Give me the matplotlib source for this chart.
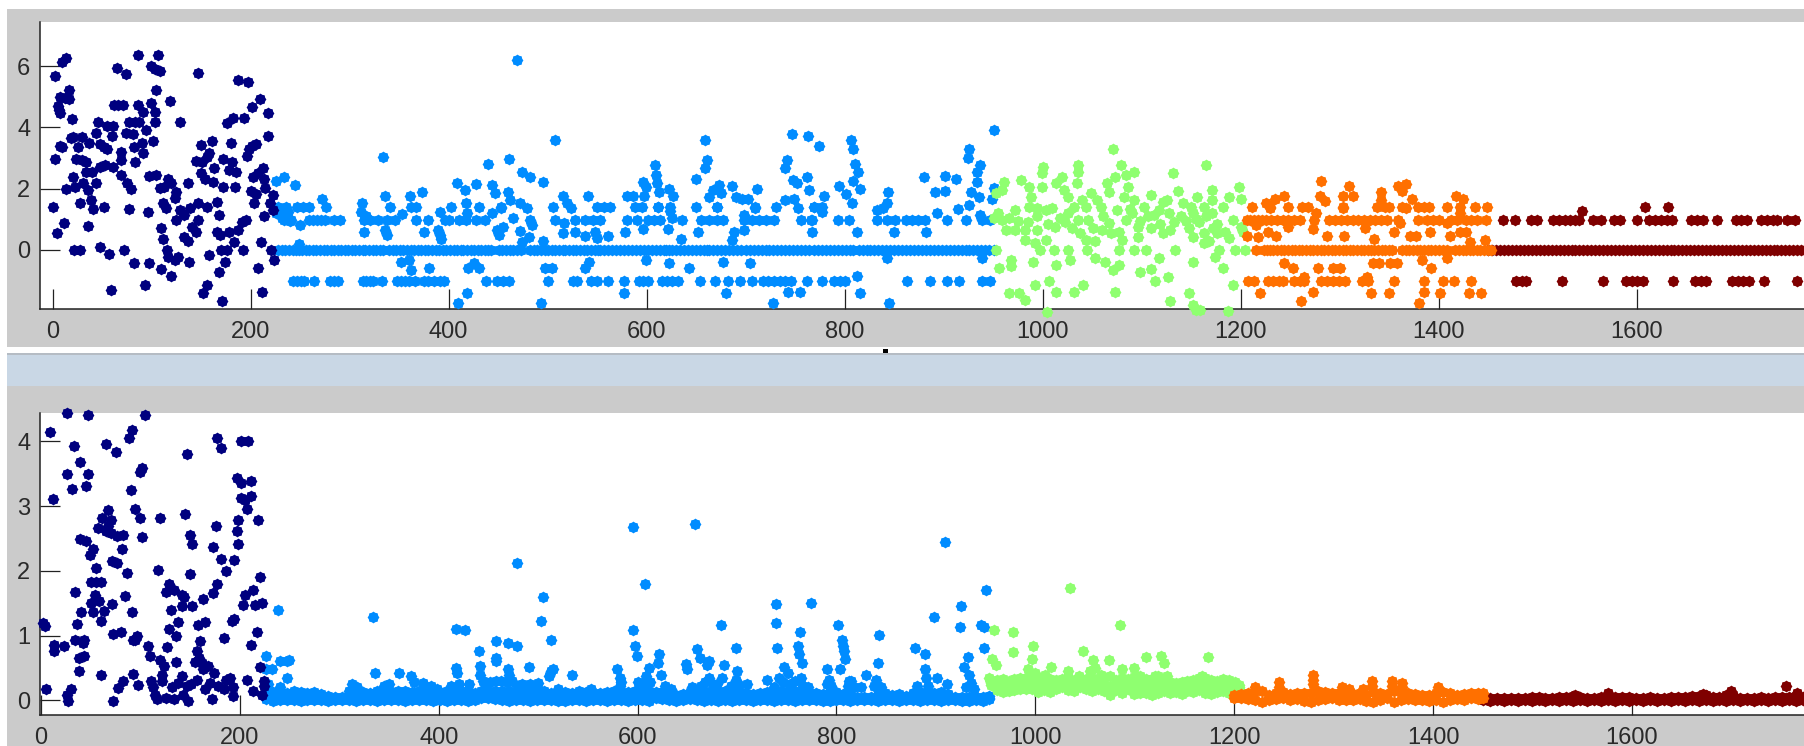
import matplotlib
matplotlib.use("Agg")
import matplotlib.pyplot as plt
from matplotlib.patches import Rectangle
from matplotlib.path import Path

W, H = 1804, 746
plt.rcParams["font.family"] = ["Liberation Sans", "DejaVu Sans"]

NAVY, BLUE, GREEN, ORANGE, DARKRED = "#00007F", "#008CFF", "#8FFF70", "#FF7000", "#7F0000"
XTICKS = [0, 200, 400, 600, 800, 1000, 1200, 1400, 1600]

# --- top panel ---
NAVY_TOP = [(2,5.67),(10,6.15),(14,6.28),(2,2.96),(0,1.39),(4,.56),(12,.89),(5,4.69),(6,4.56),(7,4.47),(8,5.0),(13,4.96),
    (17,4.94),(17,5.21),(20,4.28),(7,3.39),(10,3.37),(19,3.64),(21,3.69),(30,3.67),(37,3.5),(26,3.37),(46,4.16),(44,3.8),
    (48,3.47),(52,3.37),(55,3.31),(55,4.04),(61,4.06),(60,3.71),(65,5.94),(74,5.73),(62,4.74),(66,4.74),(71,4.74),(77,4.16),
    (83,4.16),(87,4.16),(86,6.35),(106,6.37),(99,5.99),(103,5.92),(108,5.84),(104,5.21),(86,4.74),(91,4.5),(99,4.8),(103,4.5),
    (103,4.18),(94,3.91),(101,3.55),(74,3.8),(81,3.77),(82,3.37),(90,3.5),(91,3.15),(83,2.86),(119,4.85),(129,4.17),(147,5.79),
    (187,5.54),(197,5.48),(209,4.92),(201,4.65),(218,4.48),(193,4.29),(182,4.32),(176,4.13),(218,3.71),(205,3.47),(201,3.4),
    (198,3.31),(196,3.07),(180,3.5),(161,3.55),(150,3.44),(158,3.15),(156,3.04),(145,2.9),(151,2.86),(172,2.96),(181,2.86),
    (178,2.6),(185,2.55),(163,2.68),(150,2.5),(154,2.3),(162,2.23),(172,2.04),(184,2.06),(202,2.39),(207,2.5),(213,2.68),
    (214,2.33),(215,2.03),(200,1.92),(205,1.82),(203,1.52),(223,1.79),(220,1.52),(223,1.3),(214,1.12),(24,2.96),(30,2.93),
    (34,2.86),(21,2.39),(34,2.55),(40,2.55),(48,2.71),(53,2.77),(61,2.71),(69,2.93),(69,3.2),(69,2.44),(75,2.19),(79,1.99),
    (44,2.19),(14,1.98),(23,2.04),(31,2.19),(36,1.95),(39,1.63),(41,1.32),(28,1.52),(52,1.39),(77,1.34),(96,1.25),(97,2.42),
    (104,2.44),(117,2.33),(120,2.19),(108,2.01),(113,2.04),(137,2.19),(125,1.9),(124,1.68),(112,1.52),(115,1.36),(125,.98),
    (129,1.3),(133,1.14),(139,1.36),(147,1.52),(156,1.41),(166,1.57),(168,1.14),(147,.98),(141,.76),(109,.73),(112,.36),
    (36,.78),(133,.43),(137,.3),(145,.58),(166,.58),(169,.47),(178,.58),(183,.27),(187,.65),(191,.92),(195,.98),(210,.25),
    (22,0),(28,0),(48,.11),(57,-.13),(72,0),(82,-.43),(97,-.43),(93,-1.16),(59,-1.31),(110,-.62),(120,-.85),(116,0),(117,-.22),
    (124,-.33),(127,-.22),(138,-.38),(158,-.18),(170,0),(176,0),(174,-.38),(168,-.71),(207,-.58),(192,0),(221,0),(224,-.33),
    (156,-1.14),(152,-1.41),(171,-1.68),(212,-1.38)]

BLUE_TOP_ZERO_X = [228,232,235,239,243,246,249,252,256,259,263,266,270,274,277,281,284,288,291,295,298,302,305,309,313,316,320,324,
    327,331,334,340,344,347,351,354,358,362,365,369,372,376,379,383,387,390,394,397,401,405,408,412,415,419,423,426,430,433,437,440,
    443,451,454,458,462,465,469,473,482,486,489,493,497,500,504,507,511,515,518,522,526,529,533,537,540,544,548,551,553,557,561,565,
    569,573,577,581,585,589,593,597,601,605,609,613,617,620,623,626,630,634,638,642,646,650,654,658,661,663,667,671,675,679,683,687,
    691,695,700,704,708,712,716,720,724,728,732,736,740,744,748,752,756,760,764,769,773,777,781,785,789,793,797,801,805,808,814,818,
    822,826,830,834,838,842,846,850,854,858,862,866,870,874,878,882,886,890,894,898,902,906,910,914,918,922,926,930,934,938,942,946,951]
BLUE_TOP_ONE_X = [234,241,259,263,267,271,275,284,290,315,321,329,338,346,367,379,396,400,410,418,428,437,482,507,528,538,546,553,580,
    590,601,607,613,636,655,663,671,677,698,706,713,721,729,756,766,793,804,833,843,851,862,868,874,881,903,922,939,947]
BLUE_TOP_FOURTEEN_X = [228,236,247,253,259,276,341,362,367,402,431,453,505,550,557,563,588,595,611,624,650,671,709,769,777]
BLUE_TOP_MINUS_X = [243,247,251,254,264,280,284,288,313,317,321,324,333,348,352,356,360,366,375,379,385,391,395,438,449,455,461,500,526,
    530,544,550,561,577,592,596,601,615,621,626,632,654,669,682,694,706,717,723,729,735,740,746,762,777,789,795,800,863,886,903,915,939,947]
BLUE_TOP = [(334,3.02),(469,6.21),(507,3.6),(461,2.96),(440,2.82),(474,2.55),(482,2.39),(495,2.23),(408,2.19),(428,2.14),(417,1.95),
    (444,2.12),(447,1.85),(460,1.9),(462,1.63),(472,1.52),(479,1.36),(453,1.36),(373,1.9),(361,1.77),(336,1.77),(515,1.76),(520,1.52),
    (524,1.36),(541,1.77),(272,1.65),(245,2.12),(234,2.39),(226,2.25),(312,1.52),(418,1.52),(391,1.25),(311,1.25),(317,1.09),(353,1.17),
    (419,1.2),(465,1.03),(444,1.2),(315,.58),(336,.65),(338,.49),(375,.58),(389,.65),(391,.49),(392,.35),(449,.65),(455,.76),(451,.49),
    (472,.63),(481,.41),(474,.27),(495,.3),(484,.81),(515,.54),(517,.87),(528,.58),(538,.46),(548,.6),(550,.38),(250,.81),(249,.18),
    (352,-.38),(360,-.33),(362,-.65),(380,-.58),(420,-.58),(426,-.43),(431,-.58),(497,-.58),(504,-.58),(542,-.38),(538,-.6),(409,-1.74),
    (419,-1.41),(493,-1.74),(659,3.6),(661,2.93),(659,2.66),(650,2.33),(608,2.77),(609,2.44),(610,2.17),(612,1.9),(596,2.23),(599,2.06),
    (597,1.77),(580,1.77),(586,1.77),(623,1.99),(627,1.77),(611,1.41),(624,1.28),(626,1.03),(667,1.95),(673,2.12),(675,1.85),(663,1.74),
    (671,1.41),(686,2.08),(690,1.74),(696,1.66),(702,1.66),(711,1.99),(709,1.36),(698,1.14),(731,1.41),(740,1.63),(749,1.65),(753,1.36),
    (742,2.93),(740,2.66),(747,3.77),(763,3.71),(774,3.4),(748,2.28),(752,2.17),(762,2.37),(764,1.95),(779,1.77),(794,2.1),(801,1.82),
    (807,1.52),(806,3.58),(808,3.29),(810,2.82),(813,2.55),(808,2.25),(815,1.99),(769,1.41),(777,1.25),(767,.98),(767,.58),(812,.58),
    (844,1.88),(843,1.52),(833,1.3),(839,1.36),(880,2.39),(901,2.41),(912,2.33),(891,1.88),(901,1.92),(951,3.91),(926,3.31),(925,3.01),
    (937,2.77),(934,2.55),(934,2.23),(928,1.88),(936,1.74),(951,2.03),(949,1.66),(926,1.47),(914,1.34),(893,1.2),(937,1.14),(561,.46),
    (578,.58),(596,.67),(622,.67),(635,.36),(652,.58),(686,.33),(688,.58),(698,.65),(850,.58),(882,.58),(599,-.33),(623,-.43),(643,-.58),
    (677,-.38),(704,-.43),(843,-.27),(939,-.27),(577,-1.41),(680,-1.41),(743,-1.38),(755,-1.38),(815,-1.41),(812,-.85),(728,-1.74),(845,-1.74),
    (226,1.2),(231,1.3),(235,1.1),(238,1.25),(232,1.05),(240,.95)]

GREEN_TOP = [(961,2.23),(959,1.95),(953,1.85),(978,2.28),(986,2.06),(988,1.74),(986,1.41),(994,1.09),(1000,2.71),(999,2.5),(999,2.06),
    (1019,2.39),(1013,2.17),(1021,1.95),(1026,1.74),(1036,2.77),(1036,2.55),(1035,2.19),(1071,3.28),(1079,2.77),(1073,2.39),(1065,2.17),
    (1067,1.9),(1092,2.55),(1084,2.44),(1086,2.06),(1082,1.74),(1092,1.63),(1132,2.5),(1137,1.92),(1156,1.74),(1109,1.79),(1121,1.57),
    (1142,1.52),(1152,1.2),(1049,1.85),(1040,1.63),(1055,1.63),(1059,1.41),(1044,1.41),(1009,1.36),(1003,1.3),(994,1.36),(1032,1.41),
    (1026,1.2),(955,1.2),(959,.98),(972,1.3),(966,1.03),(951,1.03),(1017,1.03),(1022,.92),(1036,.98),(1046,.98),(1051,.71),(1061,1.09),
    (1067,.87),(1084,.98),(1102,1.41),(1106,1.09),(1117,1.3),(1125,1.63),(1140,1.09),(1133,.92),(1150,1.41),(963,.65),(972,.65),(982,.65),
    (992,.22),(982,.33),(1003,.33),(994,.65),(1005,.85),(1038,.54),(1044,.33),(1053,.3),(1069,.54),(1077,.6),(1080,.33),(1096,.76),(1096,.43),
    (1109,.71),(1121,.54),(1129,.65),(1152,.43),(953,0),(997,0),(1011,0),(1025,0),(1045,0),(1077,0),(1092,0),(1104,0),(1134,0),(1053,-.27),
    (1063,-.38),(1071,-.65),(1077,-.49),(1028,-.33),(1013,-.49),(990,-.38),(968,-.33),(968,-.54),(956,-.58),(1117,-.27),(1109,-.63),(1098,-.71),
    (1152,-.38),(1126,-.89),(1113,-1.01),(1006,-1.01),(992,-1.16),(1041,-1.16),(1073,-1.38),(1013,-1.38),(1032,-1.38),(966,-1.41),(976,-1.41),
    (982,-1.63),(1004,-2.03),(1129,-1.68),(1148,-1.41),(1152,-1.79),(1155,-1.95),(1165,2.77),(1171,1.95),(1198,2.06),(1188,1.74),(1200,1.66),
    (1171,1.63),(1182,1.41),(1163,1.41),(1171,1.2),(1192,.98),(1200,.76),(1202,.6),(1184,.6),(1176,.54),(1188,.38),(1163,.54),(1163,.22),
    (1178,0),(1194,0),(1204,0),(1174,-.22),(1182,-.58),(1192,-1.16),(1187,-2.01),(1159,-1.95),(1112,1.15),(1118,.85),(1128,1.2),(1145,.95),
    (1158,.9),(1165,1.1),(1176,.85),(1090,1.2),(1098,.95),(1012,.75),(975,.95),(985,.9),(1030,.7),(1060,.65),(1075,1.3),(1088,1.35),(1148,.7),
    (1155,1.0),(1168,.3),(1172,.7)]

ORANGE_TOP_ZERO_X = [1215,1223,1226,1230,1233,1237,1241,1244,1248,1252,1255,1259,1262,1266,1270,1273,1277,1281,1284,1288,1292,1295,1299,
    1303,1306,1310,1313,1317,1321,1324,1328,1332,1335,1339,1343,1346,1350,1353,1363,1367,1370,1374,1378,1381,1385,1389,1392,1396,1400,
    1404,1408,1416,1420,1424,1427,1431,1435,1439,1442,1446,1450,1453]
ORANGE_TOP_ONE_X = [1206,1209,1213,1217,1221,1225,1231,1237,1243,1248,1254,1260,1274,1289,1295,1301,1307,1313,1318,1324,1330,1336,1342,
    1348,1359,1379,1388,1394,1400,1412,1418,1427,1433,1439,1448]
ORANGE_TOP_FOURTEEN_X = [1211,1229,1248,1262,1268,1303,1338,1350,1363,1379,1385,1390,1408,1421,1437,1449]
ORANGE_TOP_MINUS_X = [1207,1213,1227,1233,1239,1243,1254,1260,1264,1281,1287,1293,1299,1305,1322,1328,1355,1385,1404,1415,1432]
ORANGE_TOP = [(1281,2.25),(1309,2.1),(1303,1.77),(1313,1.77),(1280,1.77),(1285,1.6),(1244,1.77),(1235,1.66),(1225,1.52),(1229,1.36),(1342,1.9),
    (1342,1.63),(1346,1.41),(1359,2.1),(1367,2.14),(1363,1.92),(1373,1.66),(1367,1.36),(1417,1.77),(1424,1.66),(1303,1.36),(1276,1.2),(1215,.81),
    (1248,.76),(1273,.67),(1217,.43),(1227,.58),(1236,.46),(1206,.46),(1287,.46),(1304,.46),(1325,.71),(1335,.36),(1355,.58),(1371,.46),(1377,.46),
    (1391,.58),(1411,.46),(1421,.58),(1427,.6),(1361,.87),(1408,.87),(1421,1.2),(1431,.27),(1447,.33),(1408,-.27),(1383,-.33),(1244,-.43),(1253,-.58),
    (1278,-.58),(1293,-.58),(1300,-.58),(1334,-.43),(1340,-.43),(1351,-.43),(1358,-.43),(1392,-.58),(1219,-1.41),(1273,-1.38),(1331,-1.41),
    (1350,-1.41),(1385,-1.38),(1401,-1.41),(1430,-1.41),(1443,-1.41),(1261,-1.68),(1380,-1.74),(1327,-.87),(1264,-.87)]

DARKRED_TOP_ZERO_X = [1450,1454,1458,1462,1466,1470,1474,1478,1482,1486,1490,1494,1498,1502,1506,1510,1514,1518,1522,1526,1530,1534,1538,1542,
    1546,1550,1554,1558,1562,1566,1570,1574,1578,1582,1586,1590,1594,1598,1602,1606,1610,1614,1618,1622,1626,1630,1634,1638,1642,1646,1650,1654,
    1658,1662,1666,1670,1674,1678,1682,1686,1690,1694,1698,1702,1706,1710,1714,1718,1722,1726,1730,1734,1738,1742,1746,1750,1754,1758,1762,1766,1770]
DARKRED_TOP_ONE_X = [1465,1477,1493,1499,1515,1521,1527,1532,1538,1542,1556,1564,1577,1583,1600,1612,1618,1624,1630,1635,1655,1661,1667,1681,1700,
    1705,1711,1725,1731,1737,1742,1752,1760]
DARKRED_TOP_FOURTEEN_X = [1608,1631]
DARKRED_TOP_MINUS_X = [1478,1484,1488,1524,1566,1589,1595,1600,1606,1637,1659,1665,1670,1696,1702,1707,1713,1728,1762]
DARKRED_TOP = [(1545,1.27)]

# --- bottom panel ---
NAVY_BOT = [(26,4.43),(47,4.4),(105,4.4),(9,4.15),(12,3.11),(33,3.93),(39,3.68),(26,3.49),(47,3.49),(31,3.26),(45,3.31),(65,3.96),(75,3.83),
    (92,4.18),(89,4.05),(102,3.59),(100,3.52),(91,3.24),(95,2.96),(100,2.81),(102,2.52),(67,2.94),(61,2.81),(70,2.79),(67,2.69),(57,2.66),(65,2.61),
    (70,2.59),(76,2.53),(82,2.55),(39,2.49),(45,2.46),(52,2.34),(49,2.24),(81,2.34),(71,2.15),(76,2.12),(86,1.97),(55,2.04),(50,1.83),(55,1.83),
    (60,1.83),(54,1.63),(58,1.53),(50,1.51),(34,1.68),(71,1.49),(84,1.61),(40,1.36),(52,1.36),(63,1.38),(92,1.36),(60,1.23),(36,1.18),(2,1.2),(4,1.15),
    (72,1.03),(80,1.06),(34,.94),(43,.94),(42,.89),(38,.65),(43,.68),(38,.46),(13,.86),(13,.76),(23,.84),(95,.94),(97,.99),(93,.94),(108,.84),(110,.68),
    (60,.39),(93,.41),(98,.24),(82,.3),(77,.19),(5,.17),(30,.17),(26,.09),(27,-.01),(72,-.01),(118,2.01),(120,2.81),(145,2.87),(147,3.8),(150,2.55),
    (152,2.42),(150,1.95),(129,1.8),(126,1.68),(134,1.71),(142,1.63),(144,1.6),(142,1.45),(152,1.45),(131,1.4),(163,1.57),(138,1.21),(129,1.11),(136,.99),
    (158,1.16),(165,1.21),(160,.92),(127,.83),(136,.59),(157,.77),(159,.66),(155,.59),(162,.58),(168,.53),(174,.43),(163,.48),(120,.63),(124,.53),(122,.4),
    (122,.3),(111,.3),(113,.2),(115,.09),(117,.02),(126,.04),(134,.02),(132,.2),(142,.37),(138,.27),(147,.22),(151,.25),(157,.32),(143,.09),(148,-.01),
    (165,.17),(170,.27),(178,.22),(186,.32),(190,.35),(193,.2),(172,.02),(184,.17),(193,.07),(207,.31),(220,.51),(211,.86),(217,1.06),(184,.96),(194,1.25),
    (192,1.22),(173,1.66),(177,1.8),(186,1.99),(181,2.19),(173,2.37),(176,2.69),(177,4.05),(181,3.9),(194,2.17),(198,2.42),(197,2.62),(198,2.79),(207,2.95),
    (201,3.13),(205,3.1),(211,3.16),(197,3.43),(201,3.36),(211,3.38),(201,4),(208,4),(218,2.79),(220,1.9),(205,1.62),(213,1.71),(203,1.48),(215,1.47),
    (222,1.51),(213,.14),(222,.09),(224,.3),(224,.22)]

BLUE_BOT = [(238,1.4),(226,.68),(232,.48),(240,.61),(247,.61),(249,.62),(247,.35),(226,.48),(228,.25),(240,.2),(334,1.29),(336,.42),(360,.42),(372,.38),
    (417,1.11),(426,1.08),(417,.5),(418,.42),(479,2.12),(505,1.6),(503,1.23),(513,.94),(458,.92),(470,.89),(479,.84),(440,.77),(458,.65),(458,.61),(441,.53),
    (441,.4),(470,.48),(471,.4),(491,.52),(513,.45),(515,.48),(511,.38),(534,.39),(595,2.67),(658,2.72),(607,1.8),(909,2.45),(950,1.7),(925,1.45),(739,1.49),
    (774,1.51),(898,1.29),(595,1.08),(597,.84),(599,.68),(739,1.19),(684,1.16),(763,1.06),(802,1.16),(843,1.01),(924,1.13),(945,1.16),(948,1.13),(948,.81),
    (622,.72),(621,.57),(624,.4),(579,.48),(582,.35),(611,.5),(608,.38),(660,.79),(663,.66),(672,.61),(670,.54),(649,.56),(650,.49),(687,.54),(685,.35),
    (699,.81),(700,.45),(699,.32),(740,.81),(747,.52),(751,.43),(742,.35),(730,.32),(761,.84),(762,.71),(765,.57),(764,.35),(806,.94),(807,.84),(808,.76),
    (809,.64),(804,.48),(790,.49),(792,.32),(842,.57),(830,.4),(840,.32),(813,.3),(879,.81),(889,.72),(889,.48),(890,.35),(901,.35),(911,.25),(932,.67),
    (928,.52),(933,.4),(935,.27),(881,.22),(672,.35),(710,.25),(313,.25),(318,.2),(345,.22),(350,.25),(375,.28),(384,.27),(392,.22),(398,.18),(412,.22),
    (420,.25),(430,.25),(445,.3),(452,.28),(463,.3),(469,.28),(484,.25),(492,.25),(500,.27),(582,.22),(607,.25),(628,.22),(668,.28),(676,.25),(694,.22),
    (746,.28),(753,.25),(766,.22),(794,.22),(812,.22),(818,.2),(838,.22),(845,.2),(892,.22),(930,.2),(938,.18),(458,.3),(447,.25),(474,.3),(480,.22),
    (520,.18),(553,.18),(583,.28),(600,.28),(612,.28),(634,.18),(655,.2),(664,.22),(680,.25),(702,.24),(737,.2),(758,.3),(771,.2),(790,.25),(815,.3),(825,.2)]
BLUE_BAND_X = [226,233,240,247,254,261,268,275,282,289,296,303,310,317,324,331,338,345,352,359,366,373,380,387,394,401,408,415,422,429,436,443,
    450,457,464,471,478,485,492,499,506,513,520,527,534,541,548,555,562,569,576,583,590,597,604,611,618,625,632,639,646,653,660,667,674,681,688,695,
    702,709,716,723,730,737,744,751,758,765,772,779,786,793,800,807,814,821,828,835,842,849,856,863,870,877,884,891,898,905,912,919,926,933,940,947,953]
BLUE_BAND_TOP = [.13,.13,.14,.12,.14,.13,.12,.13,.1,.07,.06,.05,.14,.14,.13,.12,.14,.14,.13,.15,.14,.13,.15,.14,.1,.13,.14,.15,.14,.15,.12,.14,.15,.15,
    .14,.15,.15,.14,.13,.15,.15,.12,.13,.13,.12,.14,.13,.12,.12,.13,.15,.12,.13,.14,.14,.15,.13,.13,.1,.08,.1,.13,.15,.14,.15,.13,.14,.12,.13,.12,.1,.11,
    .13,.15,.14,.15,.14,.15,.12,.11,.1,.14,.13,.1,.12,.06,.05,.06,.1,.12,.08,.1,.07,.12,.13,.1,.12,.13,.1,.06,.05,.06,.06,.05,.07]
BLUE_BAND_MID = [.07,.06,.07,.06,.07,.06,.06,.07,.05,.04,.03,.03,.07,.08,.07,.06,.07,.07,.06,.08,.07,.07,.08,.07,.05,.06,.07,.08,.07,.08,.07,.09,.08,.08,
    .07,.08,.08,.07,.06,.08,.08,.06,.07,.06,.06,.07,.06,.06,.06,.07,.08,.06,.07,.07,.07,.08,.08,.07,.05,.04,.05,.07,.08,.07,.08,.06,.07,.06,.07,.06,.05,.05,
    .07,.08,.07,.08,.07,.08,.06,.05,.05,.07,.06,.05,.06,.03,.03,.03,.05,.06,.04,.05,.03,.06,.06,.05,.06,.07,.05,.03,.03,.03,.03,.03,.04]
BLUE_BAND_LOW = [.02,-.01,0,.01,0,-.01,.01,0,0,-.01,0,.01,0,-.01,.01,0,-.01,0,.01,0,-.01,.01,0,.01,-.01,0,-.01,.01,0,-.01,.01,.04,.03,.02,0,-.01,0,.01,
    -.01,0,.01,0,-.01,-.01,.01,0,-.01,0,.01,-.01,0,0,-.01,.01,0,-.01,.03,.02,0,-.01,.01,.02,0,-.01,.01,-.01,0,-.01,.01,0,-.01,0,.01,-.01,.01,0,-.01,0,.01,
    0,-.01,-.01,0,.01,-.01,0,.01,0,-.01,0,.01,-.01,0,.01,-.01,0,.01,-.01,0,.01,-.01,-.01,0,-.01,.02]

GREEN_BOT = [(1035,1.73),(1085,1.16),(958,1.08),(978,1.06),(978,.74),(998,.84),(997,.64),(1048,.77),(956,.64),(960,.54),(1016,.52),(1058,.63),(1060,.5),
    (1074,.62),(1111,.67),(1126,.69),(1129,.57),(1087,.48),(1099,.5),(993,.49),(953,.35),(1033,.45),(1132,.38),(1066,.4),(1174,.67),(1000,.42),(1044,.38),
    (1055,.45),(1010,.4),(1120,.38),(1168,.38)]
GREEN_BAND_X = [955,961,967,973,979,985,991,997,1003,1009,1015,1021,1027,1033,1039,1045,1051,1057,1063,1069,1075,1081,1087,1093,1099,1105,1111,1117,1123,1129,
    1135,1141,1147,1153,1159,1165,1171,1177,1183,1189,1195,1201,1205]
GREEN_BAND_TOP = [.3,.32,.33,.3,.33,.34,.34,.35,.33,.36,.33,.31,.33,.36,.31,.32,.33,.34,.33,.36,.38,.32,.35,.33,.36,.37,.33,.33,.37,.32,.28,.27,.28,.3,.32,.35,.34,.32,.3,
    .33,.32,.28,.24]
GREEN_BAND_MID = [.27,.24,.23,.22,.24,.25,.26,.26,.23,.26,.23,.25,.26,.26,.22,.26,.25,.24,.25,.25,.23,.24,.23,.25,.23,.24,.22,.21,.24,.23,.2,.2,.19,.22,.22,.25,.23,.21,.21,
    .24,.22,.21,.2]
GREEN_BAND_LOW = [.24,.16,.13,.15,.16,.17,.18,.17,.13,.16,.13,.18,.2,.16,.14,.2,.18,.15,.18,.14,.08,.16,.12,.17,.1,.12,.12,.09,.11,.14,.12,.13,.1,.14,.13,.16,.12,.1,.13,.15,.12,.15,.17]

ORANGE_BOT = [(1221,.21),(1245,.28),(1245,.2),(1279,.4),(1279,.32),(1279,.25),(1308,.2),(1339,.3),(1339,.22),(1359,.3),(1359,.22),(1369,.27),(1369,.2),(1405,.2),(1330,.17),(1315,.17),
    (1208,.07),(1215,.06),(1235,.05),(1263,.06),(1294,.07),(1320,.06),(1345,.05),(1378,.06),(1400,.05),(1425,.05),(1440,.07)]
ORANGE_BAND_X = [1200,1207,1214,1221,1228,1235,1242,1249,1256,1263,1270,1277,1284,1291,1298,1305,1312,1319,1326,1333,1340,1347,1354,1361,1368,1375,1382,1389,1396,1403,1410,1417,1424,1431,1438,1445,1450]
ORANGE_BAND_TOP = [.08,.1,.12,.15,.14,.09,.11,.13,.1,.11,.12,.11,.14,.13,.12,.11,.1,.1,.11,.09,.13,.12,.1,.14,.13,.11,.1,.09,.09,.12,.13,.11,.09,.1,.11,.12,.12]
ORANGE_BAND_LOW = [.04,.03,.02,.0,-.02,.0,.02,.03,.01,.02,-.01,-.02,.01,.02,.03,.01,.0,.01,.02,-.01,-.02,.0,.03,-.02,.0,.02,.01,.0,-.01,.0,-.02,.01,.02,.01,.03,.02,.03]

DARKRED_BOT = [(1755,.22),(1543,.09),(1576,.11),(1671,.1),(1700,.14),(1766,.12)]
DARKRED_BAND_X = [1450,1457,1464,1471,1478,1485,1492,1499,1506,1513,1520,1527,1534,1541,1548,1555,1562,1569,1576,1583,1590,1597,1604,1611,1618,1625,1632,1639,1646,1653,1660,1667,1674,1681,1688,1695,1702,1709,1716,1723,1730,1737,1744,1751,1758,1765,1772]
DARKRED_BAND_TOP = [.03,.04,.04,.03,.04,.04,.03,.05,.05,.04,.04,.05,.06,.07,.05,.03,.04,.05,.08,.06,.05,.05,.04,.04,.05,.04,.03,.05,.05,.06,.07,.07,.08,.05,.05,.08,.09,.04,.03,.04,.05,.03,.05,.05,.06,.07,.05]
DARKRED_BAND_LOW = [0,-.01,0,-.01,0,-.01,0,-.01,0,-.01,0,-.01,0,-.01,0,-.01,0,-.01,0,-.01,0,-.01,0,-.01,0,-.01,0,-.01,0,-.01,0,-.01,0,-.01,0,-.01,0,-.01,0,-.01,0,-.01,0,-.01,0,-.01,0]


def px_axes(fig, l, t, r, b):
    return fig.add_axes([l / W, 1 - b / H, (r - l) / W, (b - t) / H], facecolor="white", zorder=3)


def pts(ax, x, y, c):
    ax.plot(x, y, ls="none", marker=Path.unit_regular_star(8, 0.85), ms=8.5, mfc=c, mec=c, mew=0, clip_on=False, zorder=3)


def pairs(ax, data, c):
    pts(ax, [p[0] for p in data], [p[1] for p in data], c)


def level(ax, x, y, c):
    pts(ax, x, [y] * len(x), c)


def style(ax, yticks, xlim, ylim):
    ax.set_xlim(*xlim); ax.set_ylim(*ylim)
    ax.set_xticks(XTICKS); ax.set_yticks(yticks)
    ax.spines["top"].set_visible(False); ax.spines["right"].set_visible(False)
    for s in ("left", "bottom"):
        ax.spines[s].set_color("#222222"); ax.spines[s].set_linewidth(1.1)
    ax.tick_params(axis="both", direction="in", length=14.4, width=0.9, color="#222222", labelsize=17, labelcolor="#2a2a2a")
    ax.tick_params(axis="x", pad=8.5); ax.tick_params(axis="y", pad=7)


fig = plt.figure(figsize=(W / 100, H / 100), dpi=100, facecolor="white")
for y0, y1, col in [(9, 347, "#CBCBCB"), (354, 386, "#C9D7E5"), (386, 746, "#CBCBCB"), (353, 355, "#B5BCC4")]:
    fig.add_artist(Rectangle((7 / W, 1 - y1 / H), (W - 7) / W, (y1 - y0) / H, transform=fig.transFigure, fc=col, ec="none"))
fig.add_artist(Rectangle((883 / W, 1 - 353 / H), 5 / W, 4 / H, transform=fig.transFigure, fc="black", ec="none", zorder=5))

top = px_axes(fig, 40, 22, W, 309)
style(top, [0, 2, 4, 6], (-12.7, 1768.8), (-1.93, 7.44))
level(top, DARKRED_TOP_ZERO_X, 0, DARKRED); level(top, DARKRED_TOP_ONE_X, .98, DARKRED)
level(top, DARKRED_TOP_FOURTEEN_X, 1.39, DARKRED); level(top, DARKRED_TOP_MINUS_X, -1, DARKRED); pairs(top, DARKRED_TOP, DARKRED)
level(top, BLUE_TOP_ZERO_X, 0, BLUE); level(top, BLUE_TOP_ONE_X, .98, BLUE)
level(top, BLUE_TOP_FOURTEEN_X, 1.39, BLUE); level(top, BLUE_TOP_MINUS_X, -1, BLUE); pairs(top, BLUE_TOP, BLUE)
pairs(top, GREEN_TOP, GREEN)
level(top, ORANGE_TOP_ZERO_X, 0, ORANGE); level(top, ORANGE_TOP_ONE_X, .98, ORANGE)
level(top, ORANGE_TOP_FOURTEEN_X, 1.39, ORANGE); level(top, ORANGE_TOP_MINUS_X, -1, ORANGE); pairs(top, ORANGE_TOP, ORANGE)
pairs(top, NAVY_TOP, NAVY)

bot = px_axes(fig, 40, 413, W, 715)
style(bot, [0, 1, 2, 3, 4], (-1, 1773), (-.225, 4.436))
pts(bot, DARKRED_BAND_X, DARKRED_BAND_TOP, DARKRED); pts(bot, DARKRED_BAND_X, DARKRED_BAND_LOW, DARKRED); pairs(bot, DARKRED_BOT, DARKRED)
pts(bot, BLUE_BAND_X, BLUE_BAND_TOP, BLUE); pts(bot, BLUE_BAND_X, BLUE_BAND_MID, BLUE); pts(bot, BLUE_BAND_X, BLUE_BAND_LOW, BLUE); pairs(bot, BLUE_BOT, BLUE)
pts(bot, GREEN_BAND_X, GREEN_BAND_TOP, GREEN); pts(bot, GREEN_BAND_X, GREEN_BAND_MID, GREEN); pts(bot, GREEN_BAND_X, GREEN_BAND_LOW, GREEN); pairs(bot, GREEN_BOT, GREEN)
pts(bot, ORANGE_BAND_X, ORANGE_BAND_TOP, ORANGE); pts(bot, ORANGE_BAND_X, ORANGE_BAND_LOW, ORANGE); pairs(bot, ORANGE_BOT, ORANGE)
pairs(bot, NAVY_BOT, NAVY)

fig.savefig("out.png", dpi=100)
